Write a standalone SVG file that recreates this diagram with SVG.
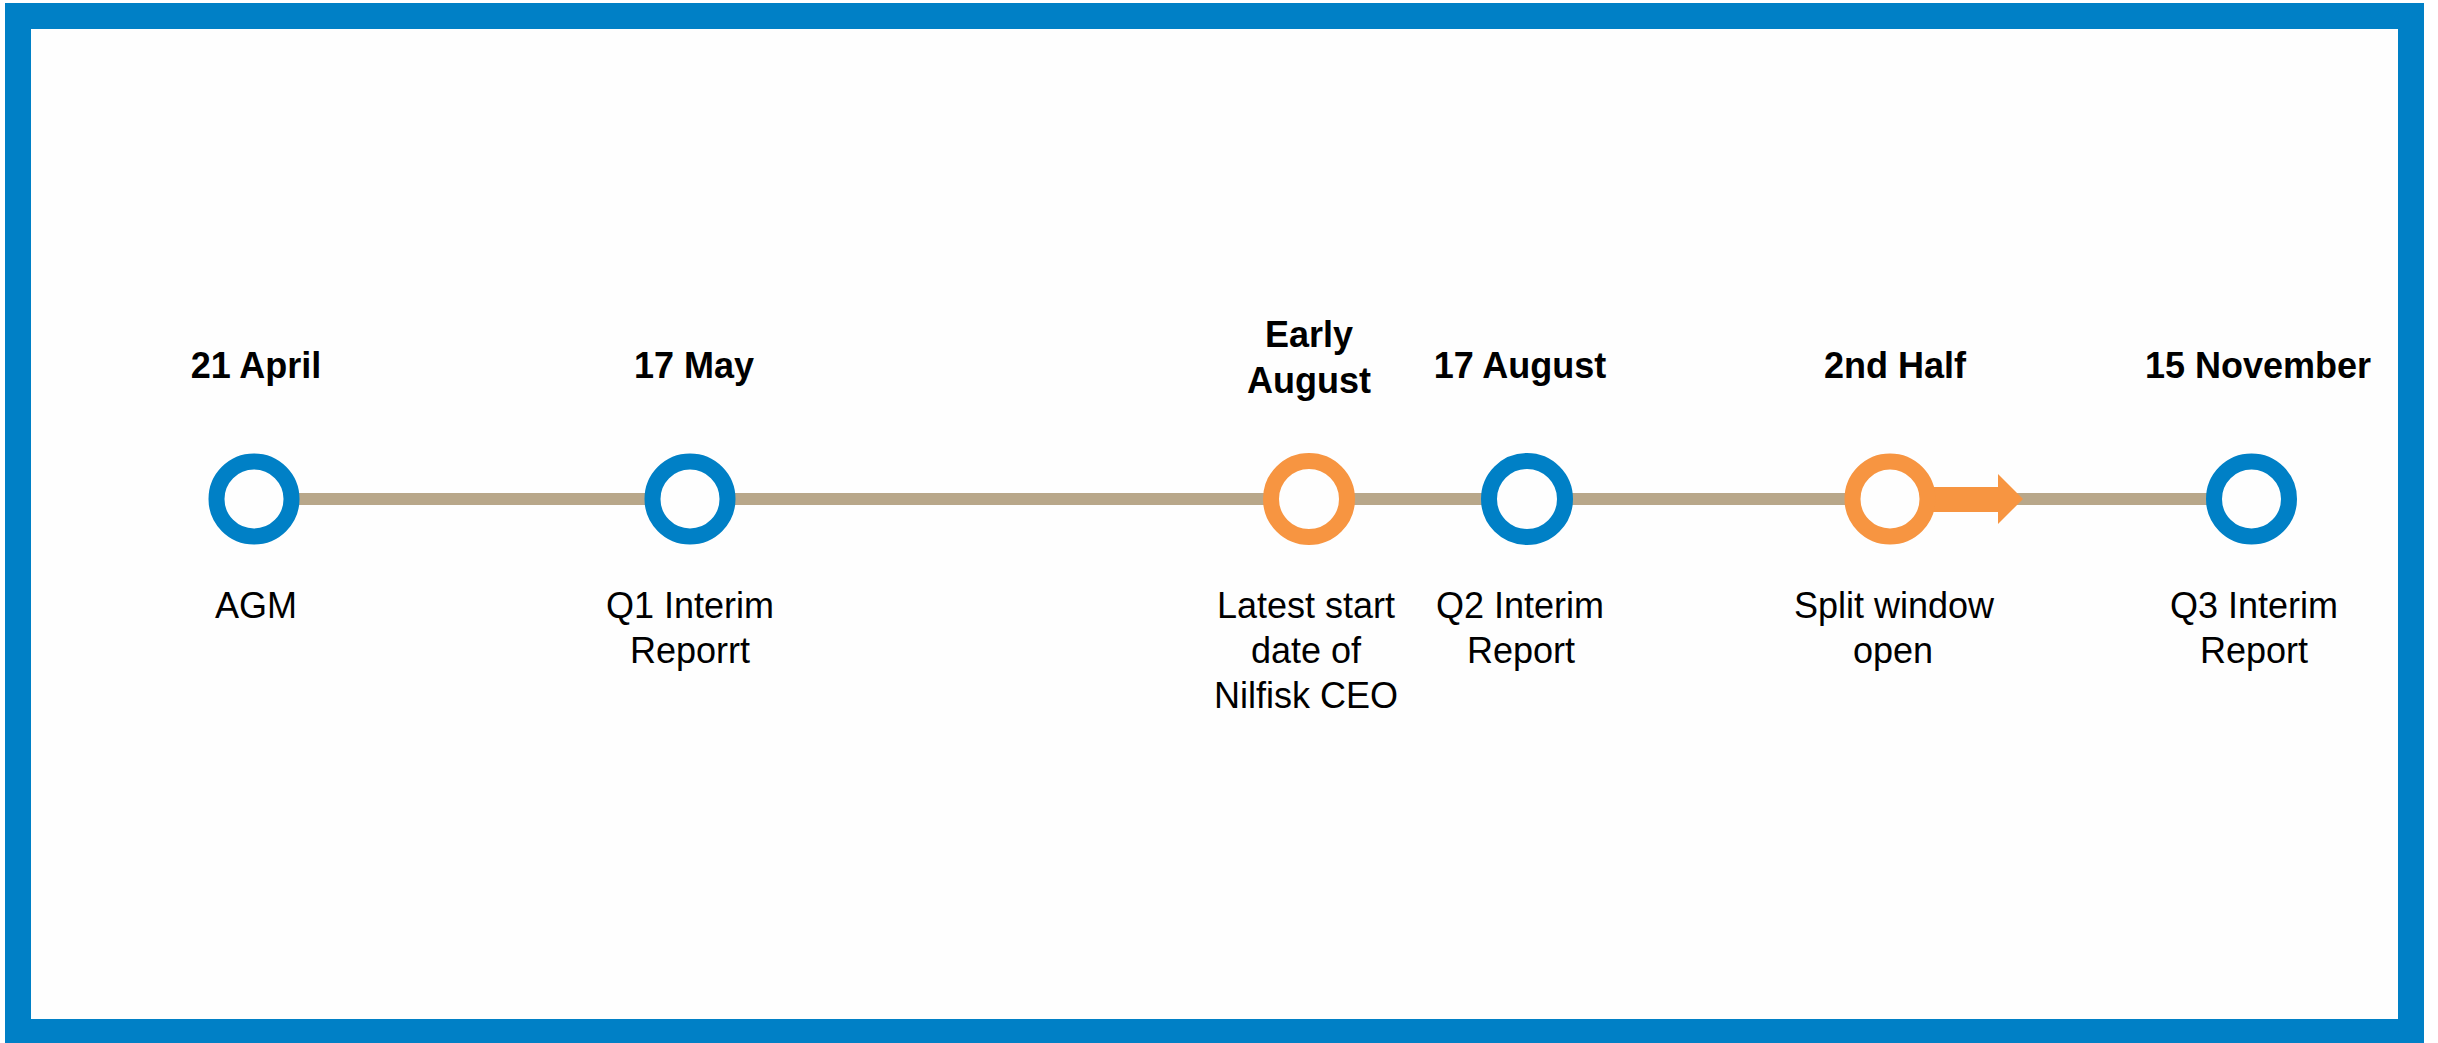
<svg xmlns="http://www.w3.org/2000/svg" width="2438" height="1043" viewBox="0 0 2438 1043">
<style>
.bg{fill:#ffffff}
.frame{fill:#fefefe;stroke:#0080c6;stroke-width:26}
.track{stroke:#b8a78a;stroke-width:12;fill:none}
.blue{fill:#fefefe;stroke:#0080c6;stroke-width:16}
.orange{fill:#fefefe;stroke:#f79541;stroke-width:16}
.date{font-family:"Liberation Sans",Arial,sans-serif;font-weight:bold;font-size:36px;fill:#000;text-anchor:middle}
.lbl{font-family:"Liberation Sans",Arial,sans-serif;font-size:36px;fill:#000;text-anchor:middle}
</style>
<rect class="bg" x="0" y="0" width="2438" height="1043"/>
<rect class="frame" x="18" y="16" width="2393" height="1016"/>
<g id="connectors">
<line class="track" x1="254" y1="499" x2="2251" y2="499"/>
<path d="M1900 487 H1998 V474 L2023 499 L1998 524 V512 H1900 Z" fill="#f79541"/>
</g>
<g id="n-21april">
<circle class="blue" cx="254" cy="499" r="37.5"/>
<text class="date" x="256" y="378">21 April</text>
<text class="lbl" x="256" y="618">AGM</text>
</g>
<g id="n-17may">
<circle class="blue" cx="690" cy="499" r="37.5"/>
<text class="date" x="694" y="378">17 May</text>
<text class="lbl" x="690" y="618">Q1 Interim</text>
<text class="lbl" x="690" y="663">Reporrt</text>
</g>
<g id="n-earlyaugust">
<circle class="orange" cx="1309" cy="499" r="38"/>
<text class="date" x="1309" y="347">Early</text>
<text class="date" x="1309" y="393">August</text>
<text class="lbl" x="1306" y="618">Latest start</text>
<text class="lbl" x="1306" y="663">date of</text>
<text class="lbl" x="1306" y="708">Nilfisk CEO</text>
</g>
<g id="n-17august">
<circle class="blue" cx="1527" cy="499" r="38"/>
<text class="date" x="1520" y="378">17 August</text>
<text class="lbl" x="1520" y="618">Q2 Interim</text>
<text class="lbl" x="1521" y="663">Report</text>
</g>
<g id="n-2ndhalf">
<circle class="orange" cx="1890" cy="499" r="37.5"/>
<text class="date" x="1895" y="378">2nd Half</text>
<text class="lbl" x="1894" y="618">Split window</text>
<text class="lbl" x="1893" y="663">open</text>
</g>
<g id="n-15november">
<circle class="blue" cx="2251.5" cy="499" r="37.5"/>
<text class="date" x="2258" y="378">15 November</text>
<text class="lbl" x="2254" y="618">Q3 Interim</text>
<text class="lbl" x="2254" y="663">Report</text>
</g>
</svg>
